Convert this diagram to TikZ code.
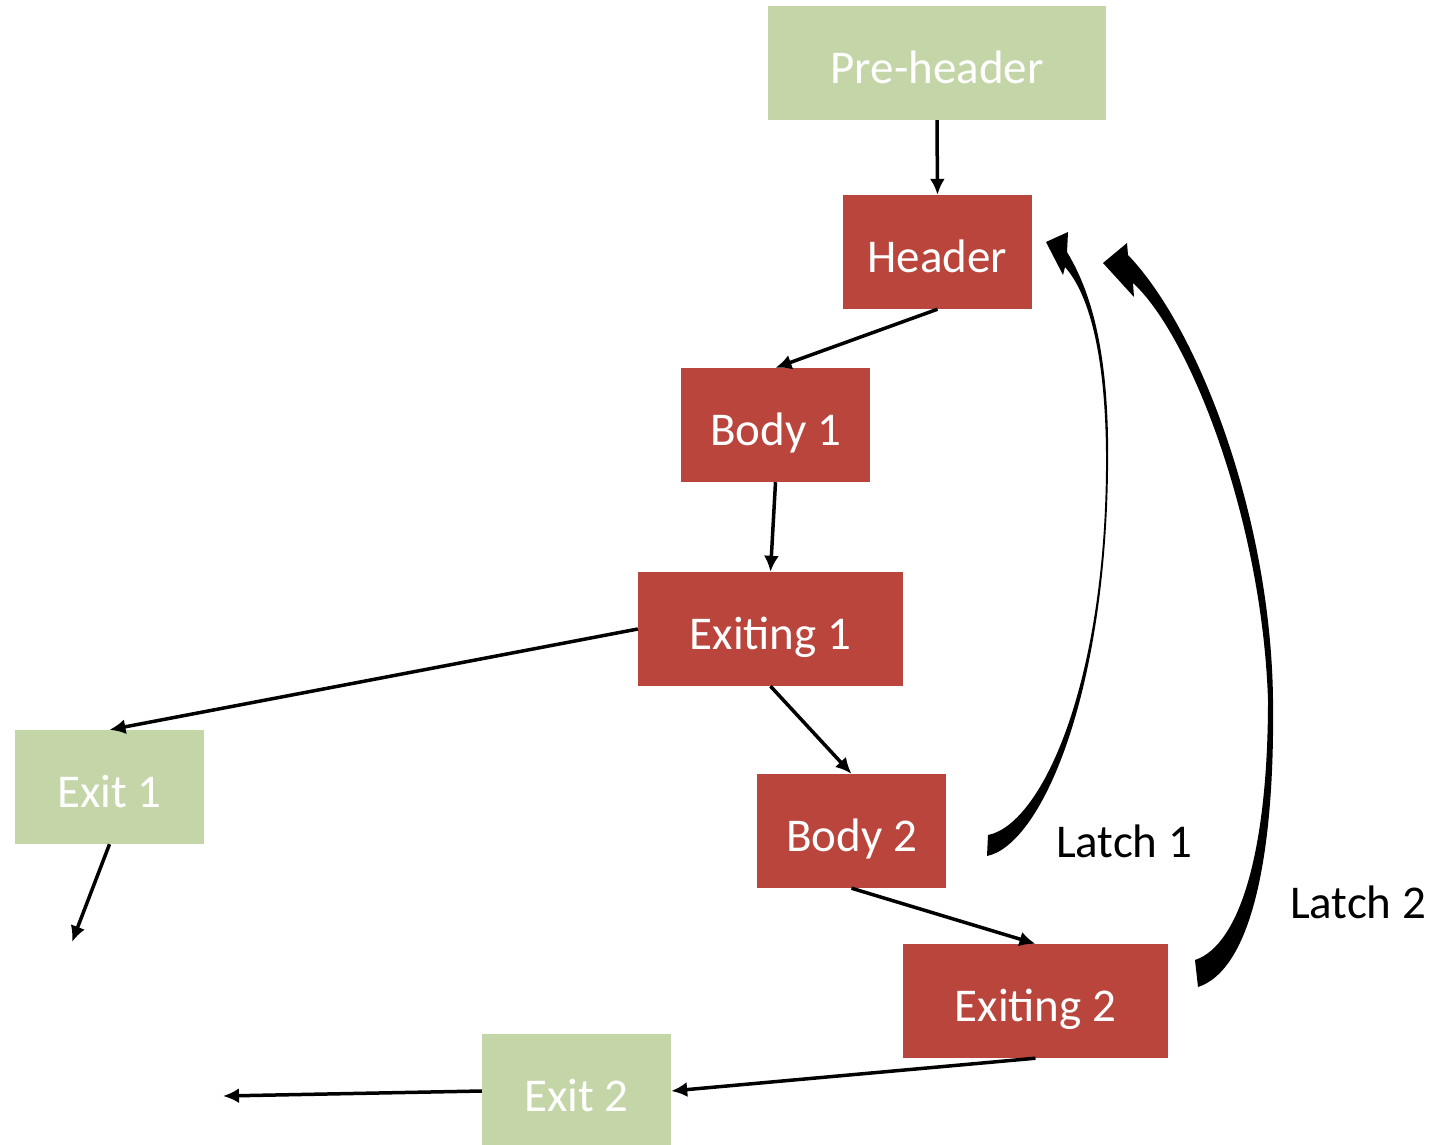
\documentclass[tikz,border=0pt]{standalone}
\usepackage{fontspec}
\setmainfont{Carlito}
\usetikzlibrary{arrows.meta}
\definecolor{boxred}{HTML}{B9453C}
\definecolor{boxgreen}{HTML}{C4D6A8}
\tikzset{
  blk/.style={inner sep=0pt, text height=40pt, text depth=0pt, text=white,
    font=\fontsize{47}{56}\selectfont, minimum height=114pt},
  redbox/.style={blk, fill=boxred},
  greenbox/.style={blk, fill=boxgreen},
  arr/.style={draw=black, line width=3.5pt, -{Latex[length=16pt,width=15pt]}},
  lbl/.style={inner sep=0pt, anchor=base, text=black, font=\fontsize{47}{56}\selectfont}
}
\begin{document}
\begin{tikzpicture}[x=1pt,y=-1pt]
\useasboundingbox (0,0) rectangle (1435,1144);
\node[greenbox, minimum width=338pt] (pre) at (937,63) {Pre-header};
\node[redbox, minimum width=189pt] (header) at (937.5,252) {Header};
\node[redbox, minimum width=189pt] (body1) at (775.5,425) {Body 1};
\node[redbox, minimum width=265pt] (ex1) at (770.5,629) {Exiting 1};
\node[greenbox, minimum width=189pt] (exit1) at (109.5,787) {Exit 1};
\node[redbox, minimum width=189pt] (body2) at (851.5,831) {Body 2};
\node[redbox, minimum width=265pt] (ex2) at (1035.5,1001) {Exiting 2};
\node[greenbox, minimum width=189pt] (exit2) at (576.5,1091) {Exit 2};
\coordinate (e1) at (72,942);
\coordinate (e2) at (223,1096);
\draw[arr] (pre.south) -- (header.north);
\draw[arr] (header.south) -- (body1.north);
\draw[arr] (body1.south) -- (ex1.north);
\draw[arr] (ex1.west) -- (exit1.north);
\draw[arr] (exit1.south) -- (e1);
\draw[arr] (ex1.south) -- (body2.north);
\draw[arr] (body2.south) -- (ex2.north);
\draw[arr] (ex2.south) -- (exit2.east);
\draw[arr] (exit2.west) -- (e2);
% Latch 1
\fill[black] (987,856) .. controls (1040,845) and (1105,700) .. (1108,470)
  .. controls (1110,350) and (1090,290) .. (1067,252)
  -- (1068,232) -- (1046,242) -- (1063,275) -- (1065,267)
  .. controls (1090,295) and (1107,360) .. (1106,470)
  .. controls (1104,690) and (1040,825) .. (988,835) -- cycle;
% Latch 2
\fill[black] (1198,987) .. controls (1250,970) and (1275,860) .. (1273,700)
  .. controls (1271,520) and (1200,330) .. (1128,255)
  -- (1127,243) -- (1103,263) -- (1134,297) -- (1133,283)
  .. controls (1190,335) and (1262,520) .. (1268,700)
  .. controls (1268,850) and (1240,945) .. (1195,960) -- cycle;
\node[lbl] (l1) at (1124,857) {Latch 1};
\node[lbl] (l2) at (1358,918) {Latch 2};
\end{tikzpicture}
\end{document}
